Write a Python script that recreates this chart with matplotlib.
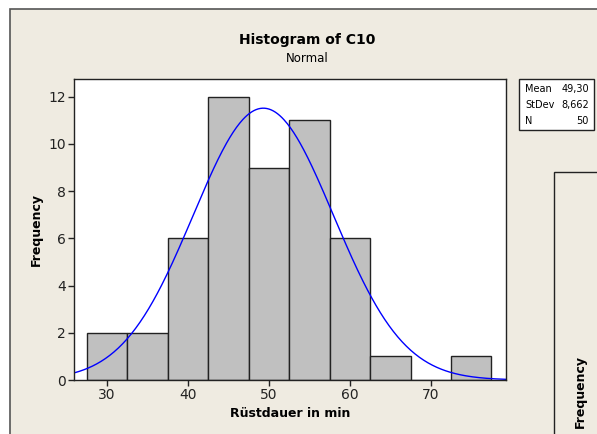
import numpy as np
import matplotlib.pyplot as plt
from matplotlib.patches import Rectangle

# Histogram data
bin_edges = [27.5, 32.5, 37.5, 42.5, 47.5, 52.5, 57.5, 62.5, 67.5, 72.5, 77.5]
counts = [2, 2, 6, 12, 9, 11, 6, 1, 0, 1]
mean = 49.30
stdev = 8.662
n = 50
stat_labels = ["Mean", "StDev", "N"]
stat_values = ["49,30", "8,662", "50"]

W, H = 597, 434
fig = plt.figure(figsize=(W / 100, H / 100), dpi=100)
fig.patch.set_facecolor("white")
beige = "#EFEBE1"

def px(x, y):
    return x / W, 1 - y / H

# beige Minitab window
x0, y0 = px(10, 9)
fig.add_artist(Rectangle((x0, -0.1), 1.2, y0 + 0.1, transform=fig.transFigure,
                         facecolor=beige, edgecolor="#555555", linewidth=1.2, zorder=-2))

# second window partly visible on the right
wx, wy = px(554, 172)
fig.add_artist(Rectangle((wx, -0.1), 0.5, wy + 0.1, transform=fig.transFigure,
                         facecolor=beige, edgecolor="#222222", linewidth=1.0, zorder=-1))
fig.text(580 / W, 1 - 391 / H, "Frequency", rotation=90, ha="center", va="center",
         fontsize=9, fontweight="bold")

# plot area
ax = fig.add_axes([74 / W, 1 - 380 / H, (506 - 74) / W, (380 - 79) / H])
ax.set_facecolor("white")

widths = np.diff(bin_edges)
ax.bar(bin_edges[:-1], counts, width=widths, align="edge",
       color="#C0C0C0", edgecolor="#222222", linewidth=1.0)

# fitted normal curve (scaled to counts)
bw = widths[0]
xs = np.linspace(25.9, 79.3, 400)
ys = n * bw / (stdev * np.sqrt(2 * np.pi)) * np.exp(-0.5 * ((xs - mean) / stdev) ** 2)
ax.plot(xs, ys, color="#0000FF", linewidth=1.0)

ax.set_xlim(25.9, 79.3)
ax.set_ylim(0, 12.75)
ax.set_xticks([30, 40, 50, 60, 70])
ax.set_yticks([0, 2, 4, 6, 8, 10, 12])
ax.tick_params(direction="out", length=4, width=1, labelsize=10,
               colors="#222222", pad=2)
for s in ax.spines.values():
    s.set_color("#222222")
    s.set_linewidth(1.0)

ax.set_xlabel("Rüstdauer in min", fontsize=9, fontweight="bold")
ax.xaxis.set_label_coords(0.5, -(407 - 380) / 301)
ax.set_ylabel("Frequency", fontsize=9, fontweight="bold")
ax.yaxis.set_label_coords(-(74 - 43) / 432, (380 - 230) / 301)

fig.text(307 / W, 1 - 40 / H, "Histogram of C10", ha="center", va="center",
         fontsize=10, fontweight="bold")
fig.text(307 / W, 1 - 59 / H, "Normal", ha="center", va="center", fontsize=8.5)

# stats box
bx0, by0 = px(519, 130)
bx1, by1 = px(594, 79)
fig.add_artist(Rectangle((bx0, by0), bx1 - bx0, by1 - by0, transform=fig.transFigure,
                         facecolor="white", edgecolor="#222222", linewidth=1.0))
for i, (lab, val) in enumerate(zip(stat_labels, stat_values)):
    yy = 1 - (89 + i * 16) / H
    fig.text(525 / W, yy, lab, ha="left", va="center", fontsize=7)
    fig.text(589 / W, yy, val, ha="right", va="center", fontsize=7)

fig.savefig("out.png", dpi=100, facecolor=fig.get_facecolor())
